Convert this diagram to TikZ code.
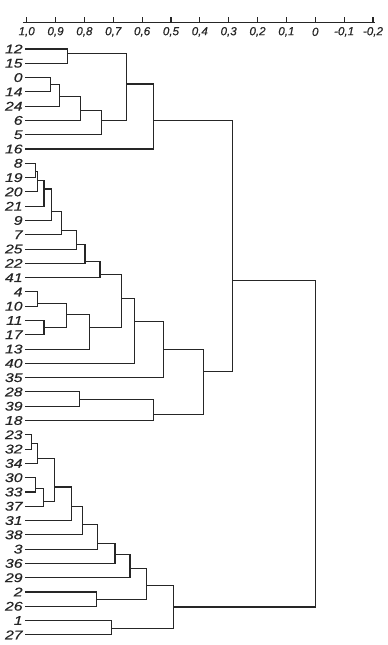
\documentclass[tikz,border=0pt]{standalone}
\usepackage{fontspec}
\newfontfamily\dgfont[FakeStretch=1.25,FakeBold=.6]{Liberation Sans}
\newfontfamily\axfont[FakeBold=.6]{Liberation Sans}
\colorlet{Ink}{black!85}
\tikzset{
  leaf/.style={anchor=east,inner sep=1pt,text=Ink,font=\fontsize{6.3}{7}\dgfont\itshape},
  tick label/.style={inner sep=0pt,text=Ink,font=\fontsize{5.8}{6.5}\axfont\itshape},
  branch/.style={Ink,line width=.55pt},
}
% bracket: name, upper child, lower child, similarity, row of the stem
\newcommand{\dlink}[5]{%
  \coordinate (#1) at (#4,#5);
  \draw[branch] (#2) -| (#1) |- (#3);}

\begin{document}
\begin{tikzpicture}[x={(-144.3pt,0)},y={(0,-7.145pt)}]
  \useasboundingbox (1.0925,-3.43) rectangle (-0.2519,41.71);
  % scale
  \coordinate (axl) at (1.013,-1.84);
  \coordinate (axr) at (-0.207,-1.84);
  \draw[branch] (axl) -- (axr);
  \foreach \t [count=\i from 0] in {{1,0},{0,9},{0,8},{0,7},{0,6},{0,5},{0,4},
      {0,3},{0,2},{0,1},{0},{-0,1},{-0,2}}
    {\draw[branch] ({1-\i/10},-1.84) -- ({1-\i/10},-2.24);
     \node[tick label] (t\i) at ({1-\i/10},-1.2) {\t};}
  % leaves
  \foreach \lab [count=\i from 0] in {12,15,0,14,24,6,5,16,8,19,20,21,9,7,25,22,
      41,4,10,11,17,13,40,35,28,39,18,23,32,34,30,33,37,31,38,3,36,29,2,26,1,27}
    \node[leaf] (l\lab) at (1.006,\i) {\lab};
  % upper group
  \dlink{a1}{l12}{l15}{.858}{0.3}
  \dlink{a2}{l0}{l14}{.919}{2.5}
  \dlink{a3}{a2}{l24}{.887}{3.3}
  \dlink{a4}{a3}{l6}{.815}{4.3}
  \dlink{a5}{a4}{l5}{.740}{5}
  \dlink{a6}{a1}{a5}{.653}{2.45}
  \dlink{a7}{a6}{l16}{.561}{5}
  % middle group
  \dlink{b1}{l8}{l19}{.971}{8.6}
  \dlink{b2}{b1}{l20}{.962}{9.2}
  \dlink{b3}{b2}{l21}{.940}{9.8}
  \dlink{b4}{b3}{l9}{.913}{11.4}
  \dlink{b5}{b4}{l7}{.879}{12.7}
  \dlink{b6}{b5}{l25}{.827}{13.65}
  \dlink{b7}{b6}{l22}{.798}{14.85}
  \dlink{b8}{b7}{l41}{.746}{15.8}
  \dlink{b9}{l4}{l10}{.962}{17.8}
  \dlink{b10}{l11}{l17}{.940}{19.5}
  \dlink{b11}{b9}{b10}{.861}{18.6}
  \dlink{b12}{b11}{l13}{.781}{19.5}
  \dlink{b13}{b8}{b12}{.671}{17.45}
  \dlink{b14}{b13}{l40}{.627}{19.1}
  \dlink{b15}{b14}{l35}{.527}{21}
  \dlink{b16}{l28}{l39}{.818}{24.55}
  \dlink{b17}{b16}{l18}{.561}{25.55}
  \dlink{b18}{b15}{b17}{.388}{22.6}
  \dlink{ab}{a7}{b18}{.286}{16.2}
  % lower group
  \dlink{c1}{l23}{l32}{.983}{27.6}
  \dlink{c2}{c1}{l34}{.962}{28.65}
  \dlink{c3}{l30}{l33}{.968}{30.75}
  \dlink{c4}{c3}{l37}{.942}{31.65}
  \dlink{c5}{c2}{c4}{.904}{30.65}
  \dlink{c6}{c5}{l31}{.846}{32}
  \dlink{c7}{c6}{l38}{.806}{33.3}
  \dlink{c8}{c7}{l3}{.754}{34.6}
  \dlink{c9}{c8}{l36}{.694}{35.4}
  \dlink{c10}{c9}{l29}{.642}{36.35}
  \dlink{c11}{l2}{l26}{.757}{38.5}
  \dlink{c12}{c10}{c11}{.584}{37.55}
  \dlink{c13}{l1}{l27}{.705}{40.55}
  \dlink{c14}{c12}{c13}{.492}{39.05}
  \dlink{top}{ab}{c14}{0}{16.2}
\end{tikzpicture}
\end{document}
